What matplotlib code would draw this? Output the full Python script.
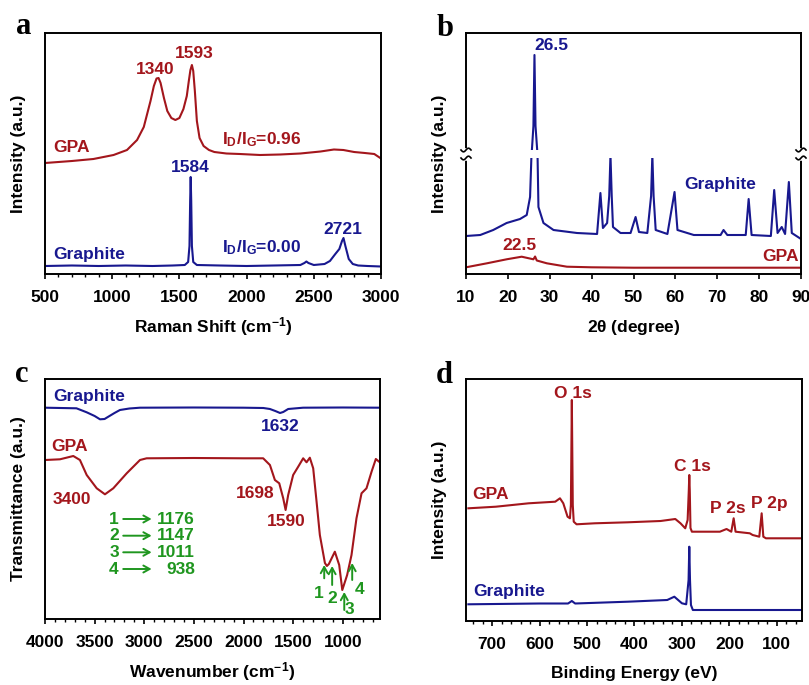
import numpy as np
import matplotlib
matplotlib.use('Agg')
import matplotlib.pyplot as plt
from matplotlib.ticker import MultipleLocator

plt.rcParams['font.family'] = ['Liberation Sans', 'DejaVu Sans']
plt.rcParams['font.weight'] = 'bold'
plt.rcParams['mathtext.fontset'] = 'custom'
plt.rcParams['mathtext.rm'] = 'Liberation Sans:bold'
plt.rcParams['mathtext.it'] = 'Liberation Sans:bold'
plt.rcParams['mathtext.bf'] = 'Liberation Sans:bold'

RED = '#A3161C'
BLUE = '#18188F'
GREEN = '#1F961F'

# ---------------- data (a) Raman ----------------
raman_gpa_x = [500, 700, 860, 1010, 1110, 1185, 1235, 1285, 1310, 1330, 1345, 1360, 1385, 1410,
               1440, 1470, 1500, 1530, 1555, 1570, 1582, 1593, 1603, 1615, 1630, 1650, 1680,
               1720, 1760, 1850, 1950, 2100, 2250, 2400, 2550, 2650, 2720, 2800, 2880, 2950, 3000]
raman_gpa_y = [113, 115, 117, 121, 126, 136, 149, 175, 190, 197.5, 198, 193, 178, 165,
               158, 156, 158, 167, 180, 195, 206, 211, 205, 185, 155, 138, 130,
               126, 124, 122.5, 122, 121, 121.5, 122.5, 124.5, 126.5, 126, 124, 123, 122, 117.5]
raman_gra_x = [500, 700, 900, 1100, 1300, 1450, 1540, 1565, 1575, 1580, 1584, 1588, 1593, 1603,
               1630, 1800, 2000, 2200, 2400, 2430, 2445, 2460, 2500, 2580, 2620, 2660, 2690,
               2710, 2721, 2735, 2760, 2790, 2830, 2900, 3000]
raman_gra_y = [10, 10.5, 10, 10.5, 10, 10.5, 11, 14, 30, 75, 99, 75, 30, 14,
               11, 10.5, 10, 10.5, 11, 13, 14.5, 13, 11, 12, 15, 22, 27,
               35, 38, 30, 17, 12, 10.5, 10, 9.5]

# ---------------- data (b) XRD ----------------
xrd_gra_x = [10, 13.4, 16.5, 19.7, 22.9, 24.5, 25.3, 25.6, 26.1, 26.35, 26.6, 27.0, 27.1, 27.3,
             28.5, 30.9, 36.5, 41.3, 42.1, 42.7, 43.7, 44.2, 44.5, 44.8, 45.1, 46.9, 49.3,
             50.5, 51.3, 53.3, 54.2, 54.5, 54.8, 55.3, 58.1, 59.8, 60.5, 64.4, 70.8, 71.5,
             72.4, 76.8, 77.5, 78.2, 82.8, 83.6, 84.4, 85.4, 86.2, 87.1, 87.8, 90]
xrd_gra_y = [40, 41, 46, 53, 57, 61, 79, 117, 150, 221, 150, 126, 117, 69,
             53, 46, 43, 42, 83, 48, 53, 80, 121, 80, 49, 43, 43,
             59, 44, 43, 80, 121, 80, 46, 42, 84, 46, 41, 41, 46,
             41, 41, 77, 41, 40, 86, 43, 49, 42, 94, 43, 37]
xrd_gpa_x = [10, 15, 19.7, 23.3, 26.1, 26.5, 26.9, 29.3, 34.1, 40, 50, 60, 70, 80, 90]
xrd_gpa_y = [8.7, 12.7, 16.7, 19.3, 16.7, 19.5, 15.5, 12.7, 9.3, 8.7, 8.3, 8.3, 8.3, 8.3, 8.3]

# ---------------- data (c) FTIR ----------------
ftir_gra_x = [4000, 3683, 3580, 3500, 3446, 3400, 3362, 3300, 3245, 3150, 3043, 2500, 2000,
              1800, 1734, 1680, 1632, 1600, 1550, 1400, 1000, 625]
ftir_gra_y = [210.3, 209.7, 205.7, 202, 198.7, 199, 201.3, 205, 208, 209.5, 210.3, 210.5, 210.3,
              210, 209, 207, 205, 206, 209, 210.3, 210.5, 210.3]
ftir_gpa_x = [4000, 3849, 3715, 3648, 3580, 3479, 3396, 3312, 3177, 3043, 2976, 2500, 2000,
              1802, 1734, 1684, 1640, 1600, 1576, 1550, 1500, 1449, 1399, 1365, 1332, 1298,
              1264, 1231, 1180, 1160, 1140, 1080, 1036, 1005, 956, 912, 862, 811, 761, 710,
              667, 627]
ftir_gpa_y = [158, 158.7, 162, 158, 143, 129.7, 123.7, 129.7, 144.7, 158, 159.7, 160, 159.7,
              159.7, 153, 138, 134.7, 119.7, 108, 123, 143, 151.3, 159.7, 155.7, 160.3, 149.7,
              116.3, 83, 55, 52, 54, 66.3, 53, 28, 43, 63, 99.7, 124.7, 129.7, 146.3,
              159, 155.7]
green_labels = ['1', '2', '3', '4']
green_values = ['1176', '1147', '1011', '938']

# ---------------- data (d) XPS ----------------
xps_gpa_x = [750, 692, 623, 567, 557, 550, 541, 536, 534, 532, 530, 528, 522, 484, 414, 345,
             314, 303, 293, 288, 285.5, 284.5, 283.5, 282, 279, 220, 206, 196, 191, 187, 157,
             151, 137, 132, 128.5, 123, 47]
xps_gpa_y = [111.7, 113.3, 116.7, 118.3, 121.7, 116.7, 103.3, 101.7, 115, 220, 115, 98.3, 95.7,
             96.7, 97.7, 99, 101, 96.7, 91.7, 100, 130, 145, 130, 92, 88.3, 88.3, 91, 88.3,
             101.7, 88.3, 86.7, 85, 83.3, 106.7, 83.3, 81.7, 81.7]
xps_gra_x = [750, 600, 540, 532, 525, 414, 331, 316, 300, 291, 286, 284.5, 283, 281, 277, 200,
             100, 47]
xps_gra_y = [15.7, 16.5, 16.5, 19, 16.5, 18.3, 20, 23.3, 16.7, 15.7, 40, 73.3, 40, 15, 10, 10,
             10, 10]

# ---------------- figure ----------------
W, H = 809, 685
fig = plt.figure(figsize=(W / 100, H / 100), dpi=100)


def add_axes(l, t, r, b):
    return fig.add_axes([l / W, 1 - b / H, (r - l) / W, (b - t) / H])


ax_a = add_axes(45, 33, 381, 274)
ax_b = add_axes(466, 33, 801, 274)
ax_c = add_axes(45, 379, 380, 619)
ax_d = add_axes(466, 379, 802, 620.5)

FS = 12.5
LW = 1.5


def style(ax, xlim, ylim, major, minor, xlabel, ylabel, xlab_y, ylab_x):
    ax.set_xlim(*xlim)
    ax.set_ylim(*ylim)
    ax.xaxis.set_major_locator(MultipleLocator(major))
    if minor:
        ax.xaxis.set_minor_locator(MultipleLocator(minor))
    ax.set_yticks([])
    ax.tick_params(axis='x', which='major', direction='out', length=3.8, width=1.2,
                   pad=8, labelsize=FS)
    ax.tick_params(axis='x', which='minor', direction='out', length=2.2, width=1.0)
    for sp in ax.spines.values():
        sp.set_linewidth(1.4)
    ax.set_xlabel(xlabel, fontsize=FS, fontweight='bold')
    ax.xaxis.set_label_coords(0.5, xlab_y)
    ax.xaxis.label.set_va('center')
    ax.set_ylabel(ylabel, fontsize=FS, fontweight='bold')
    ax.yaxis.set_label_coords(ylab_x, 0.5)
    ax.yaxis.label.set_va('center')


# (a)
ax_a.plot(raman_gpa_x, raman_gpa_y, color=RED, lw=LW)
ax_a.plot(raman_gra_x, raman_gra_y, color=BLUE, lw=LW)
style(ax_a, (500, 3000), (2, 243), 500, 100, r'Raman Shift (cm$^{-1}$)', 'Intensity (a.u.)',
      -0.22, -0.08)
ax_a.text(560, 128, 'GPA', color=RED, fontsize=FS, ha='left', va='center')
ax_a.text(1321, 206, '1340', color=RED, fontsize=FS, ha='center', va='center')
ax_a.text(1607, 223, '1593', color=RED, fontsize=FS, ha='center', va='center')
ax_a.text(1819, 136, r'I$_{D}$/I$_{G}$=0.96', color=RED, fontsize=FS, ha='left', va='center')
ax_a.text(1582, 108, '1584', color=BLUE, fontsize=FS, ha='center', va='center')
ax_a.text(560, 21, 'Graphite', color=BLUE, fontsize=FS, ha='left', va='center')
ax_a.text(1819, 28, r'I$_{D}$/I$_{G}$=0.00', color=BLUE, fontsize=FS, ha='left', va='center')
ax_a.text(2714, 46, '2721', color=BLUE, fontsize=FS, ha='center', va='center')

# (b)
ax_b.plot(xrd_gra_x, xrd_gra_y, color=BLUE, lw=LW)
ax_b.plot(xrd_gpa_x, xrd_gpa_y, color=RED, lw=LW)
style(ax_b, (10, 90), (2, 243), 10, None, r'2$\theta$ (degree)', 'Intensity (a.u.)',
      -0.22, -0.078)
brk_lo, brk_hi = 118, 126
ax_b.axhspan(brk_lo, brk_hi, color='white', zorder=3, lw=0)
tt = np.linspace(-1, 1, 30)
for sx in (0.0, 1.0):
    ax_b.plot([sx, sx], [brk_lo + 0.5, brk_hi - 0.5], color='white', lw=4,
              transform=ax_b.get_yaxis_transform(), clip_on=False, zorder=4)
    for yb in (brk_lo, brk_hi):
        ax_b.plot(sx + tt * 5 / 335, yb + 1.8 * np.sin(np.pi * tt),
                  color='black', lw=1.2, transform=ax_b.get_yaxis_transform(),
                  clip_on=False, zorder=5)
ax_b.text(26.3, 231, '26.5', color=BLUE, fontsize=FS, ha='left', va='center')
ax_b.text(70.8, 91, 'Graphite', color=BLUE, fontsize=FS, ha='center', va='center')
ax_b.text(22.7, 31, '22.5', color=RED, fontsize=FS, ha='center', va='center')
ax_b.text(85, 19.3, 'GPA', color=RED, fontsize=FS, ha='center', va='center')

# (c)
ax_c.plot(ftir_gra_x, ftir_gra_y, color=BLUE, lw=LW)
ax_c.plot(ftir_gpa_x, ftir_gpa_y, color=RED, lw=LW)
style(ax_c, (4000, 625), (-1, 239), 500, 100, r'Wavenumber (cm$^{-1}$)',
      'Transmittance (a.u.)', -0.22, -0.08)
ax_c.text(3916, 221.3, 'Graphite', color=BLUE, fontsize=FS, ha='left', va='center')
ax_c.text(1634, 191.3, '1632', color=BLUE, fontsize=FS, ha='center', va='center')
ax_c.text(3933, 171.3, 'GPA', color=RED, fontsize=FS, ha='left', va='center')
ax_c.text(3725, 118, '3400', color=RED, fontsize=FS, ha='center', va='center')
ax_c.text(1885, 124.7, '1698', color=RED, fontsize=FS, ha='center', va='center')
ax_c.text(1573, 96.3, '1590', color=RED, fontsize=FS, ha='center', va='center')
arrow_kw = dict(arrowstyle='->,head_length=0.45,head_width=0.25', color=GREEN, lw=1.4,
                shrinkA=0, shrinkB=0)
row_y = [99, 82.3, 65.7, 49]
for lab, val, yy in zip(green_labels, green_values, row_y):
    ax_c.text(3305, yy, lab, color=GREEN, fontsize=FS, ha='center', va='center')
    ax_c.annotate('', xy=(2926, yy), xytext=(3212, yy), arrowprops=arrow_kw)
    ax_c.text(2490, yy, val, color=GREEN, fontsize=FS, ha='right', va='center')
peak_arrow_x = [1187, 1107, 985, 905]
peak_arrow_tail = [39.7, 33, 8, 38]
peak_arrow_head = [53, 52, 26, 55]
peak_lab_x = [1245, 1110, 930, 835]
peak_lab_y = [25, 19.7, 8, 28]
for lab, xa, yt, yh, lx, ly in zip(green_labels, peak_arrow_x, peak_arrow_tail,
                                   peak_arrow_head, peak_lab_x, peak_lab_y):
    ax_c.annotate('', xy=(xa, yh), xytext=(xa, yt), arrowprops=arrow_kw)
    ax_c.text(lx, ly, lab, color=GREEN, fontsize=FS, ha='center', va='center')

# (d)
ax_d.plot(xps_gpa_x, xps_gpa_y, color=RED, lw=LW)
ax_d.plot(xps_gra_x, xps_gra_y, color=BLUE, lw=LW)
style(ax_d, (755, 47), (-0.5, 241), 100, 20, 'Binding Energy (eV)', 'Intensity (a.u.)',
      -0.22, -0.078)
ax_d.text(529.5, 226.7, 'O 1s', color=RED, fontsize=FS, ha='center', va='center')
ax_d.text(277.7, 153.3, 'C 1s', color=RED, fontsize=FS, ha='center', va='center')
ax_d.text(204, 111.7, 'P 2s', color=RED, fontsize=FS, ha='center', va='center')
ax_d.text(116, 116.7, 'P 2p', color=RED, fontsize=FS, ha='center', va='center')
ax_d.text(742, 125.7, 'GPA', color=RED, fontsize=FS, ha='left', va='center')
ax_d.text(738.7, 28.3, 'Graphite', color=BLUE, fontsize=FS, ha='left', va='center')

# panel letters
for lab, px, py in [('a', 24, 34), ('b', 445, 36), ('c', 22, 382), ('d', 444, 383)]:
    fig.text(px / W, 1 - py / H, lab, family='Liberation Serif', fontsize=22,
             fontweight='bold', ha='center', va='baseline')

fig.savefig('out.png', dpi=100)
